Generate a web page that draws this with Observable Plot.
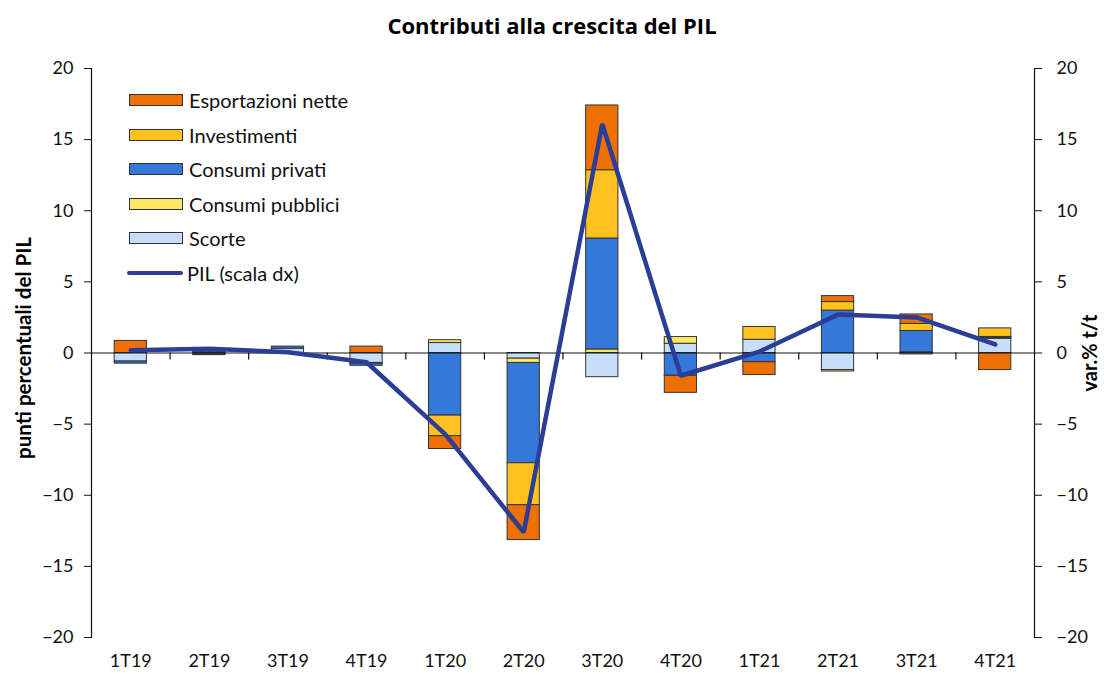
<!DOCTYPE html>
<html>
<head>
<meta charset="utf-8">
<script src="https://cdn.jsdelivr.net/npm/d3@7"></script>
<script src="https://cdn.jsdelivr.net/npm/@observablehq/plot@0.6"></script>
<style>
  body { margin: 0; background: #fff; font-family: Lato, "Open Sans", sans-serif; }
  #wrap { position: relative; width: 1104px; height: 675px; }
  #legend { position: absolute; left: 129px; top: 83px; font-size: 20px; color: #111; }
  .row { display: flex; align-items: center; height: 34.5px; }
  .sw { width: 54px; height: 12px; box-sizing: border-box; border: 1.3px solid #333; margin-right: 6px; }
  .ln { width: 56px; height: 4.5px; border-radius: 2px; background: #2B3D96; margin-right: 4px; margin-left: -2px; }
</style>
</head>
<body>
<div id="wrap"></div>
<script>
const quarters = ["1T19","2T19","3T19","4T19","1T20","2T20","3T20","4T20","1T21","2T21","3T21","4T21"];
const seriesNames = ["Scorte","Consumi pubblici","Consumi privati","Investimenti","Esportazioni nette"];
const seriesColors = ["#C6DEFA","#FFE766","#3479D9","#FFC21F","#EE7000"];
const scorte       = [-0.6, -0.1, 0.3, -0.7, 0.7, -0.4, -1.7, 0.65, 0.93, -1.2, -0.1, 1.0];
const pubblici     = [0, 0.05, 0, -0.05, 0.2, -0.3, 0.25, 0.47, 0, -0.1, 0.05, 0.05];
const privati      = [-0.15, 0.1, 0.15, -0.15, -4.4, -7.05, 7.8, -1.6, -0.65, 2.98, 1.5, 0.08];
const investimenti = [0, 0.05, 0, 0, -1.45, -2.95, 4.8, 0, 0.9, 0.6, 0.5, 0.6];
const esportazioni = [0.85, -0.05, 0, 0.45, -0.9, -2.45, 4.55, -1.2, -0.9, 0.42, 0.66, -1.2];
const pil          = [0.2, 0.3, 0.05, -0.65, -5.7, -12.6, 16.1, -1.6, 0.1, 2.7, 2.5, 0.6];
const yTicks = [-20,-15,-10,-5,0,5,10,15,20];

const seriesValues = [scorte, pubblici, privati, investimenti, esportazioni];
const bars = [];
seriesNames.forEach((s, i) => quarters.forEach((q, j) => bars.push({q, s, v: seriesValues[i][j]})));
const pilData = quarters.map((q, j) => ({q, v: pil[j]}));

const chart = Plot.plot({
  width: 1104,
  height: 675,
  marginLeft: 91,
  marginRight: 70,
  marginTop: 68,
  marginBottom: 38,
  style: {fontFamily: "Lato, 'Open Sans', sans-serif", fontSize: "18px", color: "#111", background: "#fff"},
  x: {domain: quarters, paddingInner: 0.59, paddingOuter: 0.295, round: false, label: null},
  y: {domain: [-20, 20], label: null},
  color: {domain: seriesNames, range: seriesColors},
  marks: [
    Plot.barY(bars, {x: "q", y: "v", fill: "s", stroke: "#333", strokeWidth: 1, order: seriesNames}),
    Plot.ruleY([0], {stroke: "#111", strokeWidth: 1.2}),
    Plot.ruleX(quarters.slice(1), {x: d => d, y1: 0, y2: -0.5, dx: -39.3, stroke: "#111", strokeWidth: 1.2}),
    Plot.lineY(pilData, {x: "q", y: "v", stroke: "#2B3D96", strokeWidth: 4.5, strokeLinejoin: "miter"}),
    Plot.frame({anchor: "left", stroke: "#111", strokeWidth: 1.2}),
    Plot.frame({anchor: "right", stroke: "#111", strokeWidth: 1.2}),
    Plot.axisY({anchor: "left", ticks: yTicks, tickSize: 7, tickPadding: 11, label: null, fontSize: 18}),
    Plot.axisY({anchor: "right", ticks: yTicks, tickSize: 7, tickPadding: 15, label: null, fontSize: 18}),
    Plot.axisX({anchor: "bottom", tickSize: 0, tickPadding: 17, label: null, fontSize: 18}),
    Plot.text(["Contributi alla crescita del PIL"], {frameAnchor: "top", textAnchor: "middle", dy: -50, dx: -11, fontSize: 22, fontWeight: "bold", fontFamily: "'Open Sans', sans-serif", fill: "#000"}),
    Plot.text(["punti percentuali del PIL"], {frameAnchor: "left", textAnchor: "middle", lineAnchor: "middle", rotate: -90, dx: -67, dy: -5, fontSize: 20.5, fontWeight: "bold", fill: "#000"}),
    Plot.text(["var.% t/t"], {frameAnchor: "right", textAnchor: "middle", lineAnchor: "middle", rotate: -90, dx: 56, fontSize: 20, fontWeight: "bold", fill: "#000"})
  ]
});
document.getElementById("wrap").appendChild(chart);

const legendItems = [
  {name: "Esportazioni nette", color: "#EE7000"},
  {name: "Investimenti", color: "#FFC21F"},
  {name: "Consumi privati", color: "#3479D9"},
  {name: "Consumi pubblici", color: "#FFE766"},
  {name: "Scorte", color: "#C6DEFA"},
  {name: "PIL (scala dx)", line: true}
];
const lg = document.createElement("div");
lg.id = "legend";
legendItems.forEach(it => {
  const r = document.createElement("div");
  r.className = "row";
  const sw = document.createElement("div");
  if (it.line) { sw.className = "ln"; } else { sw.className = "sw"; sw.style.background = it.color; }
  const t = document.createElement("span");
  t.textContent = it.name;
  r.appendChild(sw); r.appendChild(t);
  lg.appendChild(r);
});
document.getElementById("wrap").appendChild(lg);
</script>
</body>
</html>
